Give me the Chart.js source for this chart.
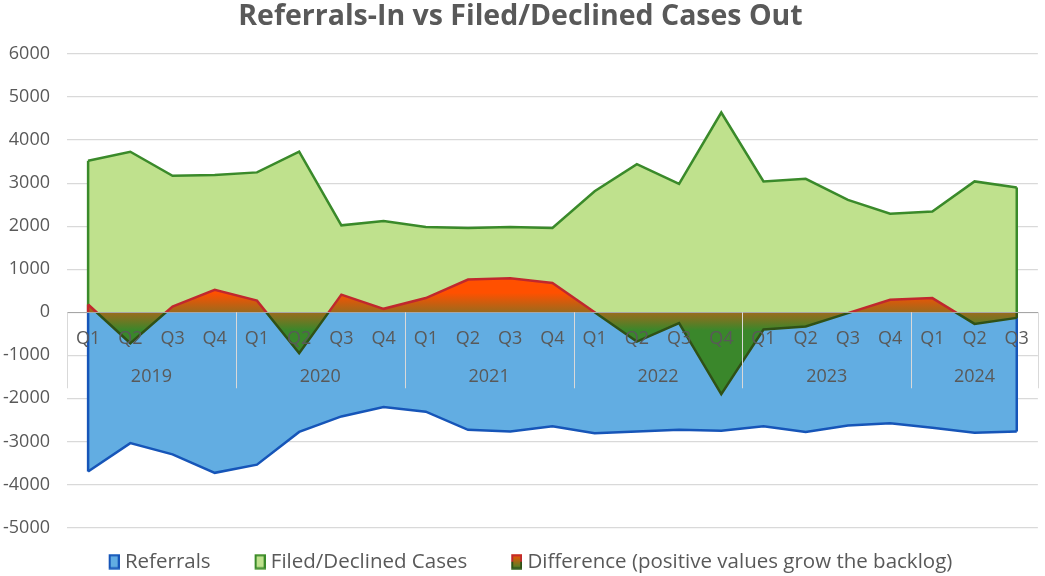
<!DOCTYPE html>
<html>
<head>
<meta charset="utf-8">
<script src="https://cdn.jsdelivr.net/npm/chart.js@4.4.1/dist/chart.umd.min.js"></script>
<style>
  html, body { margin: 0; padding: 0; background: #fff; }
  #wrap { width: 1045px; height: 576px; }
</style>
</head>
<body>
<div id="wrap"><canvas id="backlogChart"></canvas></div>
<script>
// quarters on the axis, years underneath
const quarterLabels = ['Q1', 'Q2', 'Q3', 'Q4', 'Q1', 'Q2', 'Q3', 'Q4', 'Q1', 'Q2', 'Q3', 'Q4',
  'Q1', 'Q2', 'Q3', 'Q4', 'Q1', 'Q2', 'Q3', 'Q4', 'Q1', 'Q2', 'Q3'];
const yearLabels = ['2019', '2020', '2021', '2022', '2023', '2024'];
const quartersPerYear = [4, 4, 4, 4, 4, 3];

// referrals in are plotted below zero
const referrals = [-3700, -3040, -3300, -3730, -3540, -2780, -2420, -2200, -2310, -2730, -2770, -2650,
  -2810, -2770, -2730, -2750, -2650, -2780, -2630, -2580, -2680, -2800, -2770];
const filedDeclined = [3520, 3730, 3170, 3190, 3250, 3730, 2020, 2120, 1980, 1960, 1980, 1960,
  2810, 3440, 2980, 4640, 3040, 3100, 2610, 2290, 2340, 3040, 2900];
const difference = [180, -720, 130, 520, 270, -950, 410, 80, 330, 760, 790, 680,
  0, -680, -250, -1900, -400, -330, -20, 290, 330, -270, -130];

const yMin = -5000;
const yMax = 6000;
const yStep = 1000;

const textColor = '#595959';
const fontFamily = '"Open Sans", "Liberation Sans", sans-serif';
const legendGap = 26;

// gradient for the difference area: orange above zero, green below
function diffFill(context) {
  const chart = context.chart;
  if (!chart.chartArea) return 'rgba(0,0,0,0)';
  const y = chart.scales.y;
  const top = y.getPixelForValue(450);
  const zero = y.getPixelForValue(0);
  const bottom = y.getPixelForValue(-420);
  const g = chart.ctx.createLinearGradient(0, top, 0, bottom);
  g.addColorStop(0, '#ff5000');
  g.addColorStop((zero - top) / (bottom - top), '#9c6a1c');
  g.addColorStop(1, '#3a872b');
  return g;
}

function diffLine(context) {
  const chart = context.chart;
  const area = chart.chartArea;
  if (!area) return '#c0282d';
  const zero = chart.scales.y.getPixelForValue(0);
  const t = (zero - area.top) / (area.bottom - area.top);
  const g = chart.ctx.createLinearGradient(0, area.top, 0, area.bottom);
  g.addColorStop(0, '#c0282d');
  g.addColorStop(t, '#c0282d');
  g.addColorStop(t, '#2f5116');
  g.addColorStop(1, '#2f5116');
  return g;
}

// small legend swatch, drawn at the right side of a wider transparent image
function legendIcon(fillTop, fillBottom, strokeTop, strokeBottom) {
  const c = document.createElement('canvas');
  c.width = legendGap + 10;
  c.height = 16;
  const g = c.getContext('2d');
  const w = 11, h = 15;
  const x0 = c.width - w, y0 = 0.5;
  const fill = g.createLinearGradient(0, y0, 0, y0 + h);
  fill.addColorStop(0, fillTop);
  fill.addColorStop(1, fillBottom);
  const stroke = g.createLinearGradient(0, y0, 0, y0 + h);
  stroke.addColorStop(0, strokeTop);
  stroke.addColorStop(0.5, strokeTop);
  stroke.addColorStop(0.5, strokeBottom);
  stroke.addColorStop(1, strokeBottom);
  g.fillStyle = fill;
  g.fillRect(x0, y0, w, h);
  g.lineWidth = 2;
  g.strokeStyle = stroke;
  g.strokeRect(x0 + 1, y0 + 1, w - 2, h - 2);
  return c;
}

const legendIcons = [
  legendIcon('#62ade2', '#62ade2', '#1655b8', '#1655b8'),
  legendIcon('#bfe18d', '#bfe18d', '#3a8a2a', '#3a8a2a'),
  legendIcon('#ff5000', '#3a872b', '#c0282d', '#2f5116')
];

// closing vertical edges of each area, like the office chart
const areaEdges = {
  id: 'areaEdges',
  afterDatasetDraw(chart, args) {
    const meta = args.meta;
    const zero = chart.scales.y.getPixelForValue(0);
    const ds = chart.data.datasets[args.index];
    const ends = [meta.data[0], meta.data[meta.data.length - 1]];
    const ctx = chart.ctx;
    ctx.save();
    ctx.lineWidth = 2.5;
    ends.forEach(pt => {
      ctx.strokeStyle = ds.edgeColor(pt.y < zero);
      ctx.beginPath();
      ctx.moveTo(pt.x, zero);
      ctx.lineTo(pt.x, pt.y);
      ctx.stroke();
    });
    ctx.restore();
  }
};

// second level of the category axis: years and separators
const yearAxis = {
  id: 'yearAxis',
  afterDraw(chart) {
    const { ctx, chartArea } = chart;
    const x = chart.scales.x;
    const zero = chart.scales.y.getPixelForValue(0);
    const half = (x.getPixelForValue(1) - x.getPixelForValue(0)) / 2;
    ctx.save();
    ctx.strokeStyle = '#d9d9d9';
    ctx.lineWidth = 1;
    ctx.fillStyle = textColor;
    ctx.font = '18px ' + fontFamily;
    ctx.textAlign = 'center';
    ctx.textBaseline = 'middle';
    let start = 0;
    const edges = [chartArea.left];
    yearLabels.forEach((year, i) => {
      const end = start + quartersPerYear[i] - 1;
      const right = i === yearLabels.length - 1 ? chartArea.right : x.getPixelForValue(end) + half;
      ctx.fillText(year, (x.getPixelForValue(start) + x.getPixelForValue(end)) / 2, zero + 65);
      edges.push(right);
      start = end + 1;
    });
    edges.forEach(ex => {
      const px = Math.round(ex) + 0.5;
      ctx.beginPath();
      ctx.moveTo(px, zero);
      ctx.lineTo(px, zero + 76);
      ctx.stroke();
    });
    ctx.restore();
  }
};

function initChart() {
  const ctx = document.getElementById('backlogChart').getContext('2d');
  new Chart(ctx, {
    type: 'line',
    data: {
      labels: quarterLabels,
      datasets: [{
        label: 'Referrals',
        data: referrals,
        borderColor: '#1655b8',
        backgroundColor: '#62ade2',
        edgeColor: () => '#1655b8',
        fill: 'origin',
        order: 2
      }, {
        label: 'Filed/Declined Cases',
        data: filedDeclined,
        borderColor: '#3a8a2a',
        backgroundColor: '#bfe18d',
        edgeColor: () => '#3a8a2a',
        fill: 'origin',
        order: 1
      }, {
        label: 'Difference (positive values grow the backlog)',
        data: difference,
        borderColor: diffLine,
        backgroundColor: diffFill,
        edgeColor: up => up ? '#c0282d' : '#2f5116',
        fill: 'origin',
        order: 0
      }]
    },
    options: {
      responsive: true,
      maintainAspectRatio: false,
      animation: false,
      layout: { padding: { left: 0, right: 4, top: 0, bottom: -6 } },
      elements: {
        line: { tension: 0, borderWidth: 2.5 },
        point: { radius: 0 }
      },
      plugins: {
        title: {
          display: true,
          text: 'Referrals-In vs Filed/Declined Cases Out',
          color: textColor,
          font: { family: fontFamily, size: 28.5, weight: 'bold' },
          padding: { top: 0, bottom: 19.8 }
        },
        legend: {
          position: 'bottom',
          labels: {
            usePointStyle: true,
            pointStyleWidth: legendGap,
            padding: 24,
            color: textColor,
            font: { family: fontFamily, size: 20.5 },
            generateLabels: chart => chart.data.datasets.map((ds, i) => ({
              text: ds.label,
              pointStyle: legendIcons[i],
              fillStyle: 'rgba(0,0,0,0)',
              strokeStyle: 'rgba(0,0,0,0)',
              lineWidth: 0,
              fontColor: textColor,
              datasetIndex: i,
              hidden: false
            }))
          }
        },
        tooltip: { enabled: false }
      },
      scales: {
        x: {
          type: 'category',
          position: { y: 0 },
          offset: true,
          grid: { display: false, drawTicks: false },
          border: { display: true, color: '#a6a6a6', width: 1, z: 1 },
          ticks: {
            z: 1,
            color: textColor,
            font: { family: fontFamily, size: 18 },
            padding: 16,
            maxRotation: 0,
            autoSkip: false
          }
        },
        y: {
          min: yMin,
          max: yMax,
          grid: { color: '#d9d9d9', lineWidth: 1.2, drawTicks: false },
          border: { display: false },
          ticks: {
            stepSize: yStep,
            color: textColor,
            font: { family: fontFamily, size: 18 },
            padding: 17,
            callback: value => String(value)
          },
          afterFit: scale => { scale.width = 67; }
        }
      }
    },
    plugins: [areaEdges, yearAxis]
  });
}

document.addEventListener('DOMContentLoaded', () => {
  initChart();
});
</script>
</body>
</html>
